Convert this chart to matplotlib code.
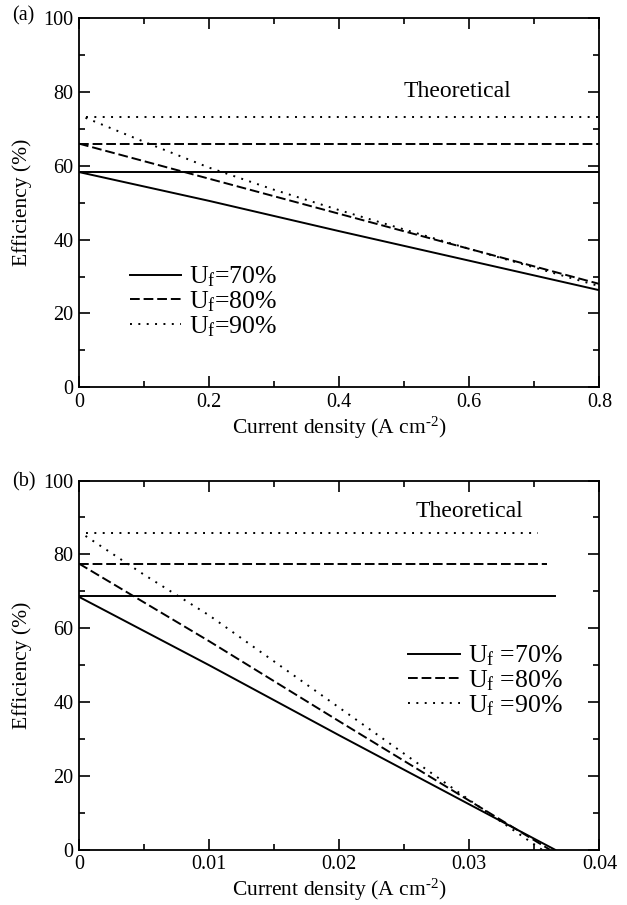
import matplotlib.pyplot as plt
from matplotlib.ticker import MultipleLocator

plt.rcParams['font.family'] = ['Liberation Serif', 'DejaVu Serif']
plt.rcParams['mathtext.fontset'] = 'custom'
plt.rcParams['mathtext.rm'] = 'Liberation Serif'
plt.rcParams['mathtext.it'] = 'Liberation Serif'

labels_a = ["U$_\\mathrm{f}$=70%", "U$_\\mathrm{f}$=80%", "U$_\\mathrm{f}$=90%"]
labels_b = ["U$_\\mathrm{f}$ =70%", "U$_\\mathrm{f}$ =80%", "U$_\\mathrm{f}$ =90%"]
styles = ["-", (0, (5, 2)), (0, (1, 3.3))]

# panel (a)
theo_a = [58.3, 66.0, 73.3]
theo_a_x = [[0, 0.8], [0, 0.8], [0.01, 0.8]]
xa_70 = [0, 0.2, 0.4, 0.6, 0.8]
ya_70 = [58.3, 50.5, 42.3, 34.3, 26.3]
xa_80 = [0, 0.2, 0.4, 0.6, 0.8]
ya_80 = [66.0, 56.5, 47.0, 37.5, 28.0]
xa_90 = [0.01, 0.1, 0.2, 0.3, 0.4, 0.6, 0.8]
ya_90 = [73.0, 66.5, 59.5, 53.5, 48.0, 37.5, 27.4]

# panel (b)
theo_b = [68.6, 77.5, 85.9]
theo_b_x = [[0, 0.0366], [0, 0.0360], [0.0005, 0.0353]]
xb_70 = [0, 0.01, 0.02, 0.03, 0.0366]
yb_70 = [68.5, 50.0, 31.0, 12.3, 0.0]
xb_80 = [0, 0.01, 0.02, 0.03, 0.0362]
yb_80 = [77.5, 56.5, 34.8, 13.3, 0.0]
xb_90 = [0.0005, 0.005, 0.01, 0.02, 0.03, 0.0356]
yb_90 = [85.0, 74.5, 63.5, 38.5, 13.5, 0.0]

fig = plt.figure(figsize=(6.27, 9.05), dpi=100)
ax1 = fig.add_axes([0.126, 0.572, 0.830, 0.408])
ax2 = fig.add_axes([0.126, 0.061, 0.830, 0.408])


def style_axis(ax, xmax, xmajor, xminor):
    ax.set_xlim(0, xmax)
    ax.set_ylim(0, 100)
    ax.xaxis.set_major_locator(MultipleLocator(xmajor))
    ax.xaxis.set_minor_locator(MultipleLocator(xminor))
    ax.yaxis.set_major_locator(MultipleLocator(20))
    ax.yaxis.set_minor_locator(MultipleLocator(10))
    ax.tick_params(which='both', direction='in', top=True, right=True, labelsize=14.5, width=1.2)
    ax.tick_params(which='major', length=8, pad=4)
    ax.tick_params(which='minor', length=4)
    for s in ax.spines.values():
        s.set_linewidth(1.3)
    ax.set_xlabel("Current density (A cm$^{\\text{-2}}$)", fontsize=15.5, labelpad=2)
    ax.set_ylabel("Efficiency (%)", fontsize=15.5, labelpad=8)
    ax.xaxis.set_major_formatter(plt.FuncFormatter(lambda v, p: f"{v:g}"))
    ax.yaxis.set_major_formatter(plt.FuncFormatter(lambda v, p: f"{v:g}"))


lw = 1.4
for xs, ys, ls, lab in zip([xa_70, xa_80, xa_90], [ya_70, ya_80, ya_90], styles, labels_a):
    ax1.plot(xs, ys, color='black', linestyle=ls, lw=lw, label=lab)
for xr, t, ls in zip(theo_a_x, theo_a, styles):
    ax1.plot(xr, [t, t], color='black', linestyle=ls, lw=lw)
style_axis(ax1, 0.8, 0.2, 0.1)
ax1.text(0.582, 80, "Theoretical", fontsize=17, ha='center', va='center')
ax1.legend(loc='center left', bbox_to_anchor=(0.098, 0.232), frameon=False, fontsize=18.5,
           handlelength=2.0, handletextpad=0.3, labelspacing=0.0, borderpad=0, borderaxespad=0)

for xs, ys, ls, lab in zip([xb_70, xb_80, xb_90], [yb_70, yb_80, yb_90], styles, labels_b):
    ax2.plot(xs, ys, color='black', linestyle=ls, lw=lw, label=lab)
for xr, t, ls in zip(theo_b_x, theo_b, styles):
    ax2.plot(xr, [t, t], color='black', linestyle=ls, lw=lw)
style_axis(ax2, 0.04, 0.01, 0.005)
ax2.text(0.0300, 91.5, "Theoretical", fontsize=17, ha='center', va='center')
ax2.legend(loc='center left', bbox_to_anchor=(0.633, 0.458), frameon=False, fontsize=18.5,
           handlelength=2.0, handletextpad=0.3, labelspacing=0.0, borderpad=0, borderaxespad=0)

fig.text(0.02, 0.982, "(a)", fontsize=14.5, va='center')
fig.text(0.02, 0.468, "(b)", fontsize=14.5, va='center')

fig.savefig("out.png", dpi=100)
